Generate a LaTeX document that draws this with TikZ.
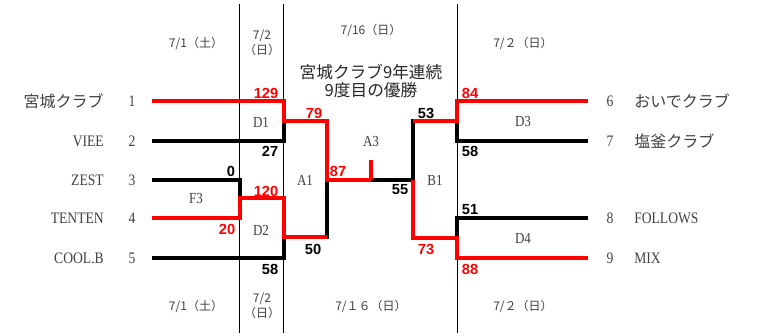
\documentclass[tikz,border=0pt]{standalone}
\usepackage{fontspec}
\usepackage{xcolor}
\setmainfont{Liberation Serif}
\newfontfamily\jp{Noto Sans CJK JP}
\newfontfamily\narrowserif[FakeStretch=0.85]{Liberation Serif}
\newfontfamily\scorefont{Liberation Sans}
\definecolor{txtgray}{HTML}{404040}
\usetikzlibrary{positioning}

\begin{document}
\begin{tikzpicture}[x=0.75pt,y=-0.75pt,line join=miter,
                    win/.style={draw=red,line width=3pt},
                    lose/.style={draw=black,line width=3pt},
                    sep/.style={draw=black,line width=0.75pt},
                    name node/.style={font=\jp\fontsize{12}{14}\selectfont,text=txtgray,inner sep=0pt},
                    latin node/.style={font=\narrowserif\fontsize{12}{14}\selectfont,text=txtgray,inner sep=0pt},
                    num node/.style={font=\narrowserif\fontsize{12}{14}\selectfont,text=txtgray,inner sep=0pt},
                    score/.style={font=\scorefont\bfseries\fontsize{11}{12}\selectfont,inner sep=0pt},
                    round node/.style={font=\narrowserif\fontsize{11.5}{13}\selectfont,text=txtgray,inner sep=0pt},
                    date node/.style={font=\jp\fontsize{9}{11.5}\selectfont,text=txtgray,inner sep=0pt,align=center}]

  \useasboundingbox (0,0) rectangle (759,333);

  % day columns
  \draw[sep] (239.5,4) -- (239.5,333);
  \draw[sep] (283.5,4) -- (283.5,333);
  \draw[sep] (457.5,4) -- (457.5,333);

  % teams, left
  \node[name node,anchor=east]  (n1) at (104,101) {宮城クラブ};
  \node[latin node,anchor=east] (n2) at (104,141) {VIEE};
  \node[latin node,anchor=east] (n3) at (104,180) {ZEST};
  \node[latin node,anchor=east] (n4) at (104,218) {TENTEN};
  \node[latin node,anchor=east] (n5) at (104,258) {COOL.B};
  \node[num node] (1) at (132,101) {1};
  \node[num node] (2) at (132,141) {2};
  \node[num node] (3) at (132,180) {3};
  \node[num node] (4) at (132,218) {4};
  \node[num node] (5) at (132,258) {5};
  % teams, right
  \node[num node] (6) at (610,101) {6};
  \node[num node] (7) at (610,141) {7};
  \node[num node] (8) at (610,218) {8};
  \node[num node] (9) at (610,258) {9};
  \node[name node,anchor=west]  (n6) at (634,101) {おいでクラブ};
  \node[name node,anchor=west]  (n7) at (634,141) {塩釜クラブ};
  \node[latin node,anchor=west] (n8) at (634,218) {FOLLOWS};
  \node[latin node,anchor=west] (n9) at (634,258) {MIX};

  % line ends and joints
  \coordinate (e1) at (152,101);
  \coordinate (e2) at (152,141);
  \coordinate (e3) at (152,180);
  \coordinate (e4) at (152,218);
  \coordinate (e5) at (152,258);
  \coordinate (e6) at (588,101);
  \coordinate (e7) at (588,141);
  \coordinate (e8) at (588,218);
  \coordinate (e9) at (588,258);
  \coordinate (f3) at (240,198);
  \coordinate (d1) at (284,121);
  \coordinate (d2) at (284,237);
  \coordinate (a1) at (327,180);
  \coordinate (a3) at (371,180);
  \coordinate (tk) at (371,160);
  \coordinate (b1) at (413,180);
  \coordinate (d3) at (457,121);
  \coordinate (d4) at (457,238);

  % losers
  \path[lose]
    (e2) -| (d1)
    (e3) -| (f3)
    (e5) -| (d2)
    (d2) -| (a1)
    (a3) -- (b1) |- (d3)
    (e7) -| (d3)
    (e8) -| (d4);
  % winners
  \path[win]
    (e1) -| (d1) -| (a1) -- (a3)
    (tk) -- (a3)
    (e4) -| (f3) -| (d2) -- (d2 -| a1)
    (e6) -| (d3) -- (d3 -| b1)
    (e9) -| (d4) -| (b1);

  % scores
  \node[score,text=red] (s1)  at (266,93)  {129};
  \node[score]          (s2)  at (270,151) {27};
  \node[score]          (s3)  at (231,171) {0};
  \node[score,text=red] (s4a) at (227,229) {20};
  \node[score,text=red] (s4b) at (266,191) {120};
  \node[score]          (s5)  at (270,269) {58};
  \node[score,text=red] (sa1) at (314,113) {79};
  \node[score]          (sa2) at (313,249) {50};
  \node[score,text=red] (sf1) at (338,171) {87};
  \node[score]          (sf2) at (400,190) {55};
  \node[score]          (sb1) at (426,113) {53};
  \node[score,text=red] (sb2) at (426,249) {73};
  \node[score,text=red] (s6)  at (470,93)  {84};
  \node[score]          (s7)  at (470,151) {58};
  \node[score]          (s8)  at (470,210) {51};
  \node[score,text=red] (s9)  at (470,269) {88};

  % games
  \node[round node] (D1) at (261,122) {D1};
  \node[round node] (F3) at (196,198) {F3};
  \node[round node] (D2) at (261,230) {D2};
  \node[round node] (A1) at (305,180) {A1};
  \node[round node] (A3) at (371,141) {A3};
  \node[round node] (B1) at (435,180) {B1};
  \node[round node] (D3) at (523,121) {D3};
  \node[round node] (D4) at (523,238) {D4};

  % dates
  \node[date node] (t1) at (196,43)  {7/1（土）};
  \node[date node] (t2) at (262,43)  {7/2\\（日）};
  \node[date node] (t3) at (371,30)  {7/16（日）};
  \node[date node] (t4) at (523,43)  {7/２（日）};
  \node[date node] (b1d) at (196,306) {7/1（土）};
  \node[date node] (b2d) at (262,306) {7/2\\（日）};
  \node[date node] (b3d) at (371,306) {7/１６（日）};
  \node[date node] (b4d) at (523,306) {7/２（日）};

  \node[font=\jp\fontsize{12.5}{13.5}\selectfont,text=black!85,align=center,inner sep=0pt] (title) at (371,81)
    {宮城クラブ9年連続\\9度目の優勝};
\end{tikzpicture}
\end{document}
